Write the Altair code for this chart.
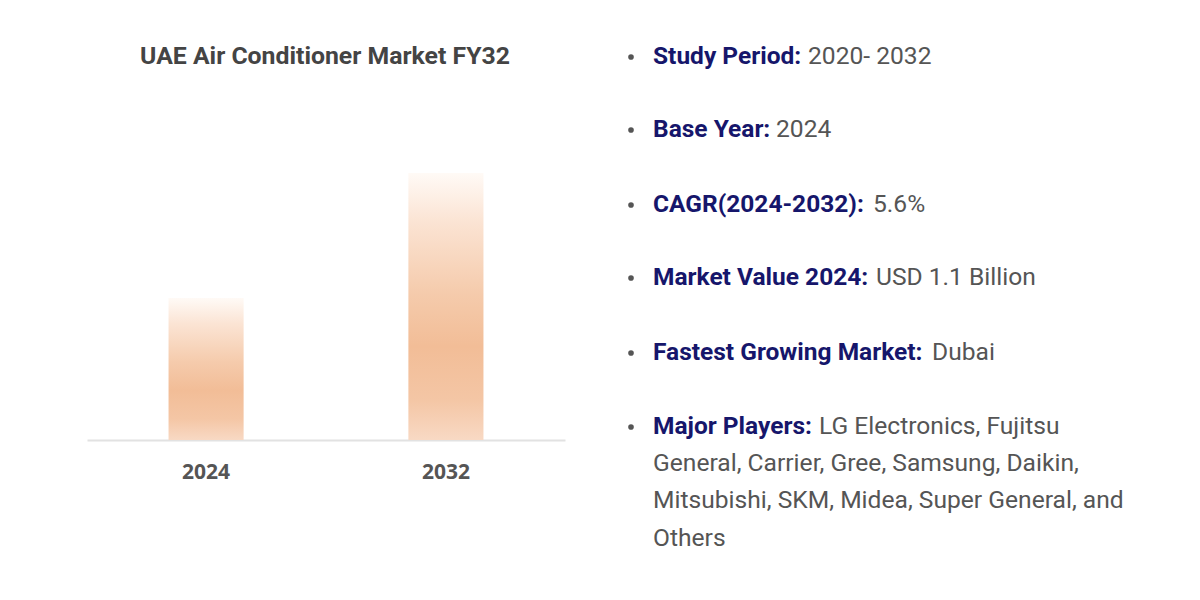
import altair as alt
import pandas as pd

# ---- data ----
years = ["2024", "2032"]
bar_values = [1.1, 2.07]  # relative bar heights

chart_title = "UAE Air Conditioner Market FY32"
labels = ["Study Period:", "Base Year:", "CAGR(2024-2032):", "Market Value 2024:",
          "Fastest Growing Market:", "Major Players:"]
values = ["2020- 2032", "2024", "5.6%", "USD 1.1 Billion", "Dubai", "LG Electronics, Fujitsu"]
continuation = ["General, Carrier, Gree, Samsung, Daikin,",
                "Mitsubishi, SKM, Midea, Super General, and",
                "Others"]

# ---- layout (pixels relative to plot origin) ----
W, H = 478, 267
label_y = [-116, -43, 32, 105, 180, 254]
value_x = [721, 689, 786, 789, 845, 732]
bullet_x = 544
label_x = 566
cont_y = [291, 328, 366]

bars = pd.DataFrame({"year": years, "value": bar_values})
lab_df = pd.DataFrame({"text": labels, "px": [label_x] * len(labels), "py": label_y})
val_df = pd.DataFrame({"text": values + continuation,
                       "px": value_x + [label_x] * len(continuation),
                       "py": label_y + cont_y})
bul_df = pd.DataFrame({"px": [bullet_x] * len(labels), "py": label_y})
title_df = pd.DataFrame({"text": [chart_title], "px": [W / 2 - 1], "py": [-116]})

gradient = alt.LinearGradient(
    gradient="linear", x1=0, x2=0, y1=0, y2=1,
    stops=[
        alt.GradientStop(color="#fffaf6", offset=0.0),
        alt.GradientStop(color="#fbe4d4", offset=0.18),
        alt.GradientStop(color="#f5cbac", offset=0.45),
        alt.GradientStop(color="#f2bd97", offset=0.65),
        alt.GradientStop(color="#f4c6a5", offset=0.85),
        alt.GradientStop(color="#f8d9c4", offset=1.0),
    ],
)

bar_layer = alt.Chart(bars).mark_bar(color=gradient).encode(
    x=alt.X("year:N", title=None,
            scale=alt.Scale(paddingInner=0.687, paddingOuter=0.34),
            axis=alt.Axis(labelAngle=0, labelFont="Open Sans", labelFontWeight="bold",
                          labelFontSize=21, labelColor="#555555", ticks=False,
                          domainColor="#e2e2e2", domainWidth=2, labelPadding=21,
                          grid=False)),
    y=alt.Y("value:Q", scale=alt.Scale(domain=[0, 2.07], nice=False), axis=None),
)

px = alt.X("px:Q", scale=None, axis=None)
py = alt.Y("py:Q", scale=None, axis=None)

title_layer = alt.Chart(title_df).mark_text(
    align="center", baseline="middle", font="Roboto", fontWeight="bold",
    fontSize=24.8, color="#444444"
).encode(x=px, y=py, text="text:N")

bullet_layer = alt.Chart(bul_df).mark_circle(size=32, color="#555555", opacity=1).encode(
    x=px, y=py)

label_layer = alt.Chart(lab_df).mark_text(
    align="left", baseline="middle", font="Roboto", fontWeight="bold",
    fontSize=24.5, color="#16166b"
).encode(x=px, y=py, text="text:N")

value_layer = alt.Chart(val_df).mark_text(
    align="left", baseline="middle", font="Roboto", fontWeight="normal",
    fontSize=24.6, color="#555555"
).encode(x=px, y=py, text="text:N")

chart = alt.layer(
    bar_layer, title_layer, bullet_layer, label_layer, value_layer
).resolve_scale(x="independent", y="independent").properties(
    width=W, height=H,
    autosize=alt.AutoSizeParams(type="none"),
    padding={"left": 79, "top": 165, "right": 627, "bottom": 152},
    background="white",
).configure_view(stroke=None)

chart.save("out.html", embed_options={"renderer": "svg", "actions": False})
